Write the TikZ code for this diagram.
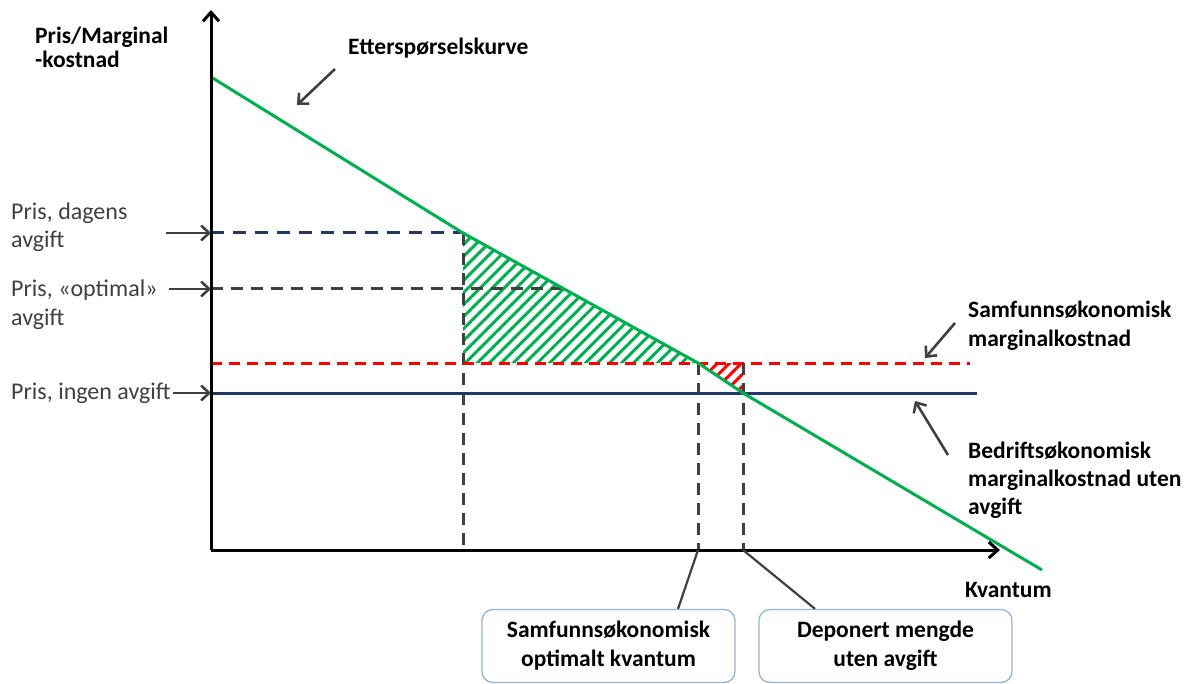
\documentclass[tikz,border=0pt]{standalone}
\usepackage{fontspec}
\setmainfont{Carlito}
\usetikzlibrary{arrows.meta,patterns.meta}
\definecolor{dgreen}{HTML}{00B050}
\definecolor{dnavy}{HTML}{1F3864}
\definecolor{dred}{HTML}{FF0000}
\definecolor{dgray}{HTML}{404040}
\definecolor{boxblue}{HTML}{95B3D7}
\tikzset{
  axisline/.style={line width=3pt,black,-{Straight Barb[length=9pt,width=16pt]}},
  demand/.style={line width=3pt,dgreen,line join=round},
  navydash/.style={line width=3pt,dnavy,dash pattern=on 13pt off 9pt},
  graydash/.style={line width=3pt,dgray,dash pattern=on 12pt off 8pt},
  reddash/.style={line width=3pt,dred,dash pattern=on 11pt off 7pt},
  navysolid/.style={line width=3pt,dnavy},
  annot/.style={line width=2.6pt,dgray,-{Straight Barb[length=8pt,width=15pt]}},
  leader/.style={line width=2.2pt,dgray},
  lbl/.style={anchor=base west,inner sep=0pt,font=\fontsize{24}{28}\selectfont,text=dgray},
  blbl/.style={anchor=base west,inner sep=0pt,font=\fontsize{23.5}{28}\selectfont\bfseries,text=black},
  infobox/.style={draw=boxblue,line width=1.3pt,rounded corners=11pt,fill=white,
    minimum width=253pt,minimum height=73pt,align=center,inner sep=0pt,
    font=\fontsize{23.5}{29}\selectfont\bfseries,text=black},
  greenhatch/.style={pattern={Lines[angle=45,distance=8.5pt,line width=3pt]},pattern color=dgreen},
  redhatch/.style={pattern={Lines[angle=45,distance=8.5pt,line width=3pt]},pattern color=dred}
}
\begin{document}
\begin{tikzpicture}[x=1pt,y=-1pt]
\useasboundingbox (0,0) rectangle (1193,684);
% key coordinates
\coordinate (O) at (211,550);
\coordinate (Ytop) at (211,10);
\coordinate (Xend) at (1000,550);
\coordinate (D0) at (211,77);
\coordinate (D1) at (463,233);
\coordinate (D2) at (698,363);
\coordinate (D3) at (743,393);
\coordinate (D4) at (1042,570);
\coordinate (Dopt) at (563,289);
\coordinate (Pdag) at (211,233);
\coordinate (Popt) at (211,289);
\coordinate (Psoc) at (211,363);
\coordinate (Pnone) at (211,393);
\coordinate (Rend) at (970,363);
\coordinate (Bend) at (977,393);
\coordinate (Hc) at (463,363);
\coordinate (Rc) at (743,363);
\coordinate (A1) at (463,550);
\coordinate (A2) at (698,550);
\coordinate (A3) at (743,550);
% hatched areas
\fill[greenhatch] (D1) -- (D2) -- (Hc) -- cycle;
\fill[redhatch] (D2) -- (Rc) -- (D3) -- cycle;
% dashed guides
\draw[navydash] (Pdag) -- (D1);
\draw[graydash] (Popt) -- (Dopt);
\draw[graydash] (D1) -- (A1);
\draw[reddash] (Psoc) -- (Rend);
\draw[graydash] (D2) -- (A2);
\draw[graydash] (Rc) -- (A3);
\draw[navysolid] (Pnone) -- (Bend);
% demand curve
\draw[demand] (D0) -- (D1) -- (D2) -- (D3) -- (D4);
% axes
\draw[axisline] (O) -- (Ytop);
\draw[axisline] (O) -- (Xend);
% axis labels
\node[blbl] (yl1) at (35,44) {Pris/Marginal};
\node[blbl] (yl2) at (35,68) {-kostnad};
\node[blbl] (xl) at (965,597) {Kvantum};
% demand label
\node[blbl] (dl) at (348,55) {Etterspørselskurve};
\coordinate (dlt) at (335,69);
\coordinate (dlh) at (297,105);
\draw[annot] (dlt) -- (dlh);
% left price labels
\node[lbl] (p1a) at (11,220) {Pris, dagens};
\node[lbl] (p1b) at (11,248) {avgift};
\node[lbl] (p2a) at (11,297) {Pris, «optimal»};
\node[lbl] (p2b) at (11,325) {avgift};
\node[lbl] (p3) at (11,399) {Pris, ingen avgift};
\coordinate (a1s) at (166,233);
\coordinate (a2s) at (169,289);
\coordinate (a3s) at (173,393);
\draw[annot] (a1s) -- (Pdag);
\draw[annot] (a2s) -- (Popt);
\draw[annot] (a3s) -- (Pnone);
% right labels
\node[blbl] (s1) at (968,318) {Samfunnsøkonomisk};
\node[blbl] (s2) at (968,346) {marginalkostnad};
\coordinate (s1t) at (955,323);
\coordinate (s1h) at (925,358);
\draw[annot] (s1t) -- (s1h);
\node[blbl] (b1) at (968,458) {Bedriftsøkonomisk};
\node[blbl] (b2) at (968,486) {marginalkostnad uten};
\node[blbl] (b3) at (968,514) {avgift};
\coordinate (b1t) at (948,455);
\coordinate (b1h) at (915,401);
\draw[annot] (b1t) -- (b1h);
% info boxes
\node[infobox] (box1) at (608.5,646) {Samfunnsøkonomisk\\optimalt kvantum};
\node[infobox] (box2) at (885.5,646) {Deponert mengde\\uten avgift};
\draw[leader] (A2) -- (box1.north -| 678,0);
\draw[leader] (A3) -- (box2.north -| 815,0);
\end{tikzpicture}
\end{document}
